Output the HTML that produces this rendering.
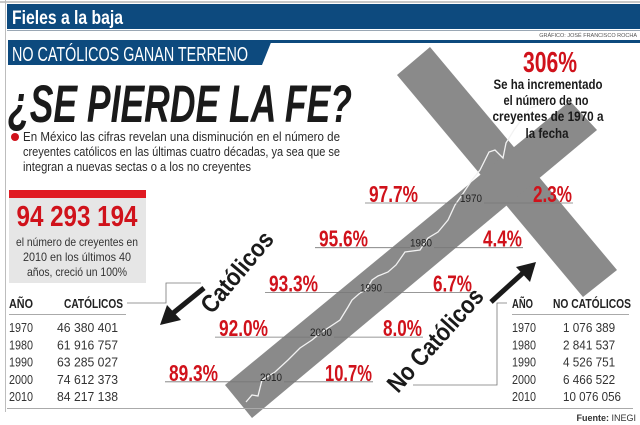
<!DOCTYPE html>
<html><head><meta charset="utf-8"><style>
html,body{margin:0;padding:0;background:#fff;}
svg{display:block;font-family:"Liberation Sans",sans-serif;}
</style></head><body>
<svg id="g" width="640" height="425" viewBox="0 0 640 425" xmlns="http://www.w3.org/2000/svg">
<rect x="0" y="0" width="640" height="425" fill="#fff"/>
<rect x="0" y="1" width="640" height="2" fill="#c8c8c8"/>
<rect x="5" y="0" width="1" height="412" fill="#bdbdbd"/>
<rect x="7" y="4" width="633" height="25" fill="#0d4a7e"/>
<text x="12" y="24" font-size="19" font-weight="bold" fill="#fff" textLength="111" lengthAdjust="spacingAndGlyphs">Fieles a la baja</text>
<rect x="7" y="30" width="633" height="1" fill="#9aa7b4"/>
<text x="637" y="37" font-size="5.5" fill="#555" text-anchor="end">GRÁFICO: JOSÉ FRANCISCO ROCHA</text>
<rect x="8" y="40" width="632" height="3" fill="#0d4a7e"/>
<polygon points="8,40 272,40 262,65 8,65" fill="#0d4a7e"/>
<text x="12" y="61" font-size="20" fill="#fff" textLength="236" lengthAdjust="spacingAndGlyphs">NO CATÓLICOS GANAN TERRENO</text>
<text x="8" y="122" font-size="53" font-weight="bold" font-style="italic" fill="#1a1a1a" textLength="344" lengthAdjust="spacingAndGlyphs">¿SE PIERDE LA FE?</text>
<circle cx="15" cy="137" r="4" fill="#d0121b"/>
<g font-size="12.5" fill="#2a2a2a">
<text x="23" y="141" textLength="317" lengthAdjust="spacingAndGlyphs">En México las cifras revelan una disminución en el número de</text>
<text x="23" y="156" textLength="317" lengthAdjust="spacingAndGlyphs">creyentes católicos en las últimas cuatro décadas, ya sea que se</text>
<text x="23" y="171" textLength="228" lengthAdjust="spacingAndGlyphs">integran a nuevas sectas o a los no creyentes</text>
</g>
<!-- cross -->
<polygon points="397,75 430,47 617,270 583,297" fill="#8a8a8a"/>
<polygon points="225,385 570,101 597,130 252,418" fill="#8a8a8a"/>
<polyline points="246,402 252,395 258,396 262,380 275,372 288,360 300,348 312,340 318,335 325,330 340,320 348,307 352,300 360,293 366,290 372,280 378,276 388,272 396,265 405,252 420,250 428,238 438,232 448,220 455,205 462,195 472,180 480,170 489,152 495,150 503,158 506,143 514,130 530,108 540,105" fill="none" stroke="#f2f2f2" stroke-width="1.3"/>
<text x="550" y="72" font-size="29" font-weight="bold" fill="#d0121b" text-anchor="middle" textLength="54" lengthAdjust="spacingAndGlyphs">306%</text>
<g font-size="13.5" font-weight="bold" fill="#1a1a1a" text-anchor="middle">
<text x="548" y="89" textLength="109" lengthAdjust="spacingAndGlyphs">Se ha incrementado</text>
<text x="546" y="105" textLength="85" lengthAdjust="spacingAndGlyphs">el número de no</text>
<text x="548" y="121" textLength="111" lengthAdjust="spacingAndGlyphs">creyentes de 1970 a</text>
<text x="547" y="138" textLength="43" lengthAdjust="spacingAndGlyphs">la fecha</text>
</g>
<!-- stat box -->
<rect x="9" y="190" width="137" height="8" fill="#e01a22"/>
<rect x="9" y="198" width="137" height="85" fill="#e6e6e6"/>
<text x="77" y="226" font-size="29" font-weight="bold" fill="#d0121b" text-anchor="middle" textLength="121" lengthAdjust="spacingAndGlyphs">94 293 194</text>
<g font-size="12" fill="#333" text-anchor="middle">
<text x="77" y="246" textLength="122" lengthAdjust="spacingAndGlyphs">el número de creyentes en</text>
<text x="77" y="261" textLength="108" lengthAdjust="spacingAndGlyphs">2010 en los últimos 40</text>
<text x="77" y="276" textLength="100" lengthAdjust="spacingAndGlyphs">años, creció un 100%</text>
</g>
<g id="labels"></g>
<!-- arrows -->
<g>
<line x1="204" y1="288" x2="172" y2="314" stroke="#1a1a1a" stroke-width="5"/>
<polygon points="160,325 167,305 181,320" fill="#1a1a1a"/>
</g>
<text transform="translate(212,315) rotate(-50)" font-size="25" font-weight="bold" fill="#1a1a1a" textLength="98" lengthAdjust="spacingAndGlyphs">Católicos</text>
<polyline points="127,303 166,303 166,283 201,283" fill="none" stroke="#777" stroke-width="0.8"/>
<g>
<line x1="491" y1="302" x2="524" y2="272" stroke="#1a1a1a" stroke-width="5"/>
<polygon points="536,262 530,282 516,267" fill="#1a1a1a"/>
</g>
<text transform="translate(398,394) rotate(-48)" font-size="25" font-weight="bold" fill="#1a1a1a" textLength="130" lengthAdjust="spacingAndGlyphs">No Católicos</text>
<polyline points="413,385 497,385 497,303 507,303" fill="none" stroke="#777" stroke-width="0.8"/>
<!-- tables -->
<g font-size="12.5" font-weight="bold" fill="#222">
<text x="9" y="308" textLength="24" lengthAdjust="spacingAndGlyphs">AÑO</text>
<text x="64" y="308" textLength="59" lengthAdjust="spacingAndGlyphs">CATÓLICOS</text>
<text x="512" y="308" textLength="21" lengthAdjust="spacingAndGlyphs">AÑO</text>
<text x="553" y="308" textLength="78" lengthAdjust="spacingAndGlyphs">NO CATÓLICOS</text>
</g>
<rect x="9" y="314" width="117" height="1" fill="#aaa"/>
<rect x="512" y="314" width="117" height="1" fill="#aaa"/>
<g id="rows"></g>
<rect x="7" y="408" width="626" height="1" fill="#aaa"/>
<text x="636" y="421" font-size="9" fill="#333" text-anchor="end"><tspan font-weight="bold">Fuente:</tspan> INEGI</text>
</svg>
<script>
const years = ["1970","1980","1990","2000","2010"];
const catolicosPct = ["97.7%","95.6%","93.3%","92.0%","89.3%"];
const noCatolicosPct = ["2.3%","4.4%","6.7%","8.0%","10.7%"];
const catolicosCount = ["46 380 401","61 916 757","63 285 027","74 612 373","84 217 138"];
const noCatolicosCount = ["1 076 389","2 841 537","4 526 751","6 466 522","10 076 056"];

const NS = "http://www.w3.org/2000/svg";
function rowY(i){ return 194 + i * 44.7; }
function yearX(i){ return 471 - i * 50; }
function tableY(i){ return 332 + i * 17.3; }
function mk(tag, attrs, txt){
  const e = document.createElementNS(NS, tag);
  for (const k in attrs) e.setAttribute(k, attrs[k]);
  if (txt !== undefined) e.textContent = txt;
  return e;
}
const L = document.getElementById('labels');
years.forEach((yr, i) => {
  const y = rowY(i), x = yearX(i);
  const ly = y + 9;
  const l1 = mk('line', {x1: x - 106, y1: ly, x2: x - 11, y2: ly, stroke: '#777', 'stroke-width': 0.8});
  
  
  L.appendChild(l1);
  const l2 = mk('line', {x1: x + 13, y1: ly, x2: x + 102, y2: ly, stroke: '#777', 'stroke-width': 0.8});
  
  
  L.appendChild(l2);
  const yt = mk('text', {x: x, y: y + 8, 'font-size': 11, fill: '#222', 'text-anchor': 'middle', textLength: 22, lengthAdjust: 'spacingAndGlyphs'}, yr);
  
  
  L.appendChild(yt);
  const c = mk('text', {x: x - 53, y: y + 8, 'font-size': 23, 'font-weight': 'bold', fill: '#d0121b', 'text-anchor': 'end', textLength: 49, lengthAdjust: 'spacingAndGlyphs'}, catolicosPct[i]);
  
  
  L.appendChild(c);
  const n = mk('text', {x: x + 101, y: y + 8, 'font-size': 23, 'font-weight': 'bold', fill: '#d0121b', 'text-anchor': 'end', textLength: noCatolicosPct[i].length > 4 ? 47 : 39, lengthAdjust: 'spacingAndGlyphs'}, noCatolicosPct[i]);
  
  
  L.appendChild(n);
});
const R = document.getElementById('rows');
years.forEach((yr, i) => {
  const y = tableY(i);
  const a = mk('text', {x: 9, y: y, 'font-size': 12.5, fill: '#333', textLength: 24, lengthAdjust: 'spacingAndGlyphs'}, yr);
  
  
  R.appendChild(a);
  const b = mk('text', {x: 57, y: y, 'font-size': 12.5, fill: '#333', textLength: catolicosCount[i].length * 6.1, lengthAdjust: 'spacingAndGlyphs'}, catolicosCount[i]);
  
  
  R.appendChild(b);
  const c = mk('text', {x: 512, y: y, 'font-size': 12.5, fill: '#333', textLength: 24, lengthAdjust: 'spacingAndGlyphs'}, yr);
  
  
  R.appendChild(c);
  const d = mk('text', {x: 563, y: y, 'font-size': 12.5, fill: '#333', textLength: noCatolicosCount[i].length * 5.8, lengthAdjust: 'spacingAndGlyphs'}, noCatolicosCount[i]);
  
  
  R.appendChild(d);
});
</script>
</body></html>
